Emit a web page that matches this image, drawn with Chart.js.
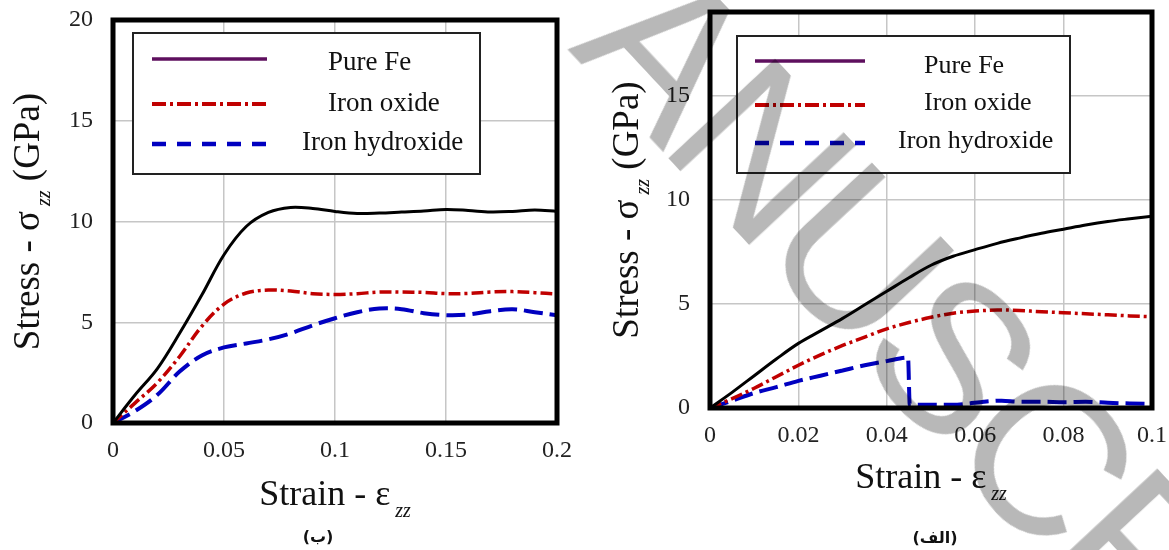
<!DOCTYPE html>
<html>
<head>
<meta charset="utf-8">
<script src="https://cdn.jsdelivr.net/npm/chart.js@4/dist/chart.umd.min.js"></script>
<style>
html,body{margin:0;padding:0;width:1169px;height:550px;overflow:hidden;background:#fff;}
#wrapL{position:absolute;left:0;top:0;width:590px;height:550px;}
#wrapR{position:absolute;left:590px;top:0;width:620px;height:550px;}
.cap{position:absolute;font-family:"DejaVu Sans",sans-serif;font-weight:bold;font-size:16px;color:#111;white-space:nowrap;transform:translate(-50%,-50%);}
#wm{position:absolute;left:905px;top:305px;font-family:"Liberation Sans",sans-serif;font-size:212px;line-height:1;letter-spacing:-10px;color:#b8b8b8;white-space:nowrap;transform:translate(-50%,-50%) rotate(47deg);mix-blend-mode:multiply;pointer-events:none;}
</style>
</head>
<body>
<div id="wrapL"><canvas id="chartL" width="590" height="550"></canvas></div>
<div id="wrapR"><canvas id="chartR" width="620" height="550"></canvas></div>
<div class="cap" dir="rtl" style="left:318px;top:536px;">(ب)</div>
<div class="cap" dir="rtl" style="left:935px;top:537px;">(الف)</div>
<div id="wm">ANUSCR</div>
<script>
// ---------- Data: left panel (ب) ----------
const strainLeft = [0,0.01,0.02,0.03,0.04,0.05,0.06,0.07,0.08,0.09,0.1,0.11,0.12,0.13,0.14,0.15,0.16,0.17,0.18,0.19,0.2];
const pureFeLeft = [0,1.4,2.7,4.45,6.35,8.35,9.75,10.45,10.7,10.65,10.5,10.4,10.42,10.47,10.52,10.6,10.55,10.47,10.5,10.57,10.5];
const ironOxideLeft = [0,1.0,2.0,3.3,4.8,5.9,6.45,6.6,6.55,6.42,6.38,6.42,6.5,6.5,6.48,6.42,6.43,6.5,6.52,6.47,6.4];
const ironHydroxideLeft = [0,0.6,1.4,2.55,3.35,3.75,3.95,4.15,4.45,4.85,5.2,5.5,5.68,5.65,5.45,5.35,5.38,5.55,5.65,5.5,5.35];

// ---------- Data: right panel (الف) ----------
const strainRight = [0,0.005,0.01,0.015,0.02,0.025,0.03,0.035,0.04,0.045,0.05,0.055,0.06,0.065,0.07,0.075,0.08,0.085,0.09,0.095,0.1];
const pureFeRight = [0,0.75,1.55,2.35,3.1,3.7,4.3,4.95,5.6,6.25,6.85,7.28,7.6,7.9,8.15,8.38,8.58,8.78,8.95,9.08,9.2];
const ironOxideRight = [0,0.45,0.95,1.5,2.05,2.55,3.0,3.4,3.8,4.1,4.35,4.55,4.65,4.7,4.68,4.62,4.57,4.52,4.47,4.42,4.38];
const strainHydroxideRight = [0,0.005,0.01,0.015,0.02,0.025,0.03,0.035,0.04,0.0448,0.0452,0.05,0.055,0.058,0.062,0.066,0.07,0.075,0.08,0.085,0.09,0.095,0.1];
const ironHydroxideRight = [0,0.35,0.72,1.0,1.3,1.55,1.8,2.05,2.25,2.42,0.15,0.15,0.15,0.2,0.3,0.35,0.3,0.3,0.28,0.3,0.25,0.22,0.2];

// ---------- Labels ----------
const seriesLabels = ["Pure Fe","Iron oxide","Iron hydroxide"];
const yTicksLeft = [0,5,10,15,20];
const yTicksRight = [0,5,10,15];
const xTitleMain = "Strain - \u03b5", xTitleSub = "zz";
const yTitleMain = "Stress - \u03c3", yTitleSub = "zz", yTitleTail = " (GPa)";

const SERIF = '"Liberation Serif","Times New Roman",serif';

function styles(){
  return [
    {color:'#000000', width:3, dash:[], legendColor:'#5e0f5e', legendDash:[], legendWidth:3.5},
    {color:'#c00000', width:3.5, dash:[12,4,3,4], legendColor:'#c00000', legendDash:[14,4,3,4], legendWidth:4},
    {color:'#0000c0', width:4, dash:[19,7], legendColor:'#0000c0', legendDash:[14,11], legendWidth:4.5}
  ];
}

function makeChart(id, cfg){
  const st = styles();
  const datasets = cfg.series.map((s,i)=>{
    const d = {
      label: seriesLabels[i],
      data: s.x.map((x,k)=>({x:x, y:s.y[k]})),
      borderColor: st[i].color, borderWidth: st[i].width, borderDash: st[i].dash,
      pointRadius: 0, fill:false,
      legendColor: st[i].legendColor, legendDash: st[i].legendDash, legendWidth: st[i].legendWidth
    };
    if (s.mono) d.cubicInterpolationMode = 'monotone'; else d.tension = 0.35;
    return d;
  });

  const decor = {
    id:'decor',
    afterDatasetsDraw(chart){
      const ctx = chart.ctx, a = chart.chartArea;
      ctx.save();
      ctx.strokeStyle = '#000'; ctx.lineWidth = 5; ctx.setLineDash([]);
      ctx.strokeRect(a.left, a.top, a.right-a.left, a.bottom-a.top);
      const L = cfg.legend;
      ctx.fillStyle = '#fff';
      ctx.fillRect(L.x, L.y, L.w, L.h);
      ctx.strokeStyle = '#222'; ctx.lineWidth = 2;
      ctx.strokeRect(L.x, L.y, L.w, L.h);
      chart.data.datasets.forEach((ds,i)=>{
        ctx.beginPath();
        ctx.strokeStyle = ds.legendColor; ctx.lineWidth = ds.legendWidth;
        ctx.setLineDash(ds.legendDash);
        ctx.moveTo(L.sx0, L.rows[i]); ctx.lineTo(L.sx1, L.rows[i]);
        ctx.stroke();
        ctx.setLineDash([]);
        ctx.fillStyle = '#111';
        ctx.font = L.font + 'px ' + SERIF;
        ctx.textAlign = 'left'; ctx.textBaseline = 'alphabetic';
        ctx.fillText(ds.label, L.tx[i], L.tb[i]);
      });
      ctx.fillStyle = '#111';
      const mainFont = '36px ' + SERIF, subFont = 'italic 20px ' + SERIF;
      ctx.font = mainFont; const wM = ctx.measureText(xTitleMain).width;
      ctx.font = subFont; const wS = ctx.measureText(xTitleSub).width;
      const gap = 5;
      const cx = (a.left + a.right)/2;
      let x0 = cx - (wM + gap + wS)/2;
      ctx.textAlign = 'left'; ctx.textBaseline = 'alphabetic';
      ctx.font = mainFont; ctx.fillText(xTitleMain, x0, cfg.xTitleBase);
      ctx.font = subFont; ctx.fillText(xTitleSub, x0 + wM + gap, cfg.xTitleBase + 12);
      const yFont = '37px ' + SERIF;
      ctx.font = yFont; const w1 = ctx.measureText(yTitleMain).width;
      const w3 = ctx.measureText(yTitleTail).width;
      ctx.font = subFont; const w2 = ctx.measureText(yTitleSub).width;
      const tot = w1 + gap + w2 + w3;
      const cy = (a.top + a.bottom)/2;
      ctx.translate(cfg.yTitleBase, cy);
      ctx.rotate(-Math.PI/2);
      let p = -tot/2;
      ctx.font = yFont; ctx.fillText(yTitleMain, p, 0); p += w1 + gap;
      ctx.font = subFont; ctx.fillText(yTitleSub, p, 11); p += w2;
      ctx.font = yFont; ctx.fillText(yTitleTail, p, 0);
      ctx.restore();
    }
  };

  return new Chart(document.getElementById(id), {
    type:'line',
    data:{datasets},
    options:{
      responsive:false, animation:false, devicePixelRatio:1,
      layout:{padding:{left:0, top:cfg.padTop, right:cfg.padRight, bottom:0}},
      plugins:{legend:{display:false}, tooltip:{enabled:false}},
      scales:{
        x:{
          type:'linear', min:0, max:cfg.xMax,
          border:{display:false},
          grid:{color:'#c6c6c6', lineWidth:1.5, drawTicks:false},
          ticks:{stepSize:cfg.xStep, padding:13, color:'#222', maxRotation:0,
                 font:{family:SERIF, size:24},
                 callback:(v)=>String(+v.toFixed(3))},
          afterFit:(s)=>{s.height = cfg.xAxisH; s.paddingLeft = 0; s.paddingRight = 0;}
        },
        y:{
          type:'linear', min:0, max:cfg.yMax,
          border:{display:false},
          grid:{color:'#c6c6c6', lineWidth:1.5, drawTicks:false},
          ticks:{padding:20, color:'#222', font:{family:SERIF, size:24}},
          afterBuildTicks:(s)=>{ s.ticks = cfg.yTicks.map(v=>({value:v})); },
          afterFit:(s)=>{s.width = cfg.yAxisW; s.paddingTop = 0; s.paddingBottom = 0;}
        }
      }
    },
    plugins:[decor]
  });
}

makeChart('chartL', {
  series:[{x:strainLeft,y:pureFeLeft},{x:strainLeft,y:ironOxideLeft},{x:strainLeft,y:ironHydroxideLeft}],
  xMax:0.2, xStep:0.05, yMax:20, yTicks:yTicksLeft,
  padTop:20, padRight:33, xAxisH:127, yAxisW:113,
  xTitleBase:505, yTitleBase:39,
  legend:{x:133,y:33,w:347,h:141, sx0:152, sx1:267, rows:[59,104,144], tx:[328,328,302], tb:[70,111,150], font:27}
});

makeChart('chartR', {
  series:[{x:strainRight,y:pureFeRight},{x:strainRight,y:ironOxideRight},{x:strainHydroxideRight,y:ironHydroxideRight,mono:true}],
  xMax:0.1, xStep:0.02, yMax:19, yTicks:yTicksRight,
  padTop:12, padRight:58, xAxisH:142, yAxisW:120,
  xTitleBase:488, yTitleBase:48,
  legend:{x:147,y:36,w:333,h:137, sx0:165, sx1:275, rows:[61,105,143], tx:[334,334,308], tb:[73,110,148], font:26}
});
</script>
</body>
</html>
